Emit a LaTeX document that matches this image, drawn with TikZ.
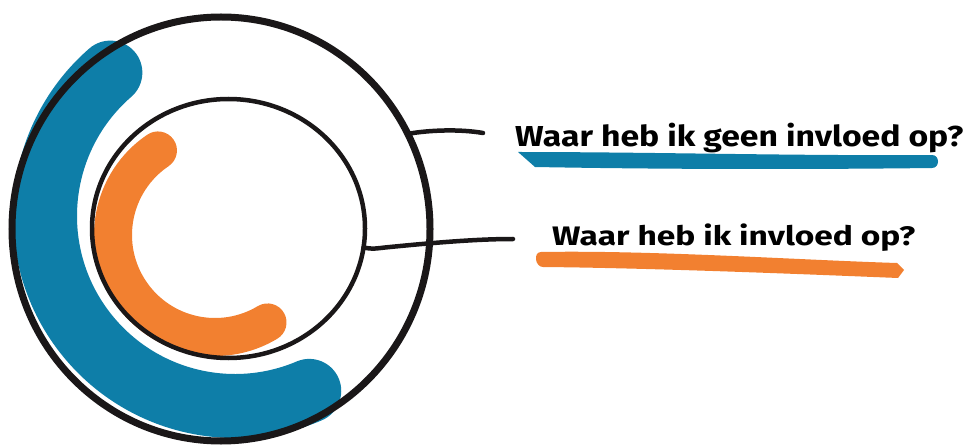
\documentclass[tikz,border=0pt]{standalone}
\usepackage{fontspec}
\setmainfont{Fira Sans}
\usepackage{graphicx}
\usetikzlibrary{shapes.geometric}
\definecolor{inkblack}{HTML}{1A1718}
\definecolor{bandblue}{HTML}{0E7EA8}
\definecolor{bandorange}{HTML}{F28030}
\tikzset{
  ring/.style={draw=inkblack, ellipse, inner sep=0pt, outer sep=0pt},
  connector/.style={draw=inkblack, line width=4.5pt, line cap=round},
  band/.style={line cap=round, line join=round},
  label/.style={anchor=base west, inner sep=0pt, text=black},
}
\begin{document}
\begin{tikzpicture}[x=1pt,y=-1pt]
\useasboundingbox (0,0) rectangle (968,446);
% colored bands (y axis points down, so angles run the other way)
\draw[band, bandblue, line width=64pt] (235,216) ++(-131:190) arc[start angle=-131, end angle=-293, radius=190];
\draw[band, bandorange, line width=38pt] (215,235) ++(-124:102) arc[start angle=-124, end angle=-301, radius=102];
% circles
\node[ring, line width=7pt, minimum width=418pt, minimum height=424pt] (outer) at (221,229) {};
\node[ring, line width=4.5pt, minimum width=273pt, minimum height=259pt] (inner) at (228.5,228.5) {};
% connector ends
\coordinate (c1) at (483,133);
\coordinate (c2) at (513,239);
\draw[connector] (outer.27) .. controls (430,130) and (460,129) .. (c1);
\draw[connector] (inner.-8) .. controls (372,249) .. (385,247.5) .. controls (440,242) and (480,239) .. (c2);
% underlines
\fill[bandblue] (518,152) -- (535,167) .. controls (700,170) and (850,169) .. (932,168)
  .. controls (940,168) and (940,155) .. (932,155) .. controls (800,156) and (650,152) .. cycle;
\fill[bandorange] (541,252) .. controls (650,250) and (800,260) .. (897,263) -- (904,270) -- (898,278)
  .. controls (800,274) and (650,268) .. (543,267) .. controls (535,267) and (533,252) .. cycle;
% labels
\node[label] (t1) at (515,147) {\resizebox{448pt}{23.4pt}{\bfseries Waar heb ik geen invloed op?}};
\node[label] (t2) at (552,245) {\resizebox{363pt}{21.7pt}{\bfseries Waar heb ik invloed op?}};
\end{tikzpicture}
\end{document}
